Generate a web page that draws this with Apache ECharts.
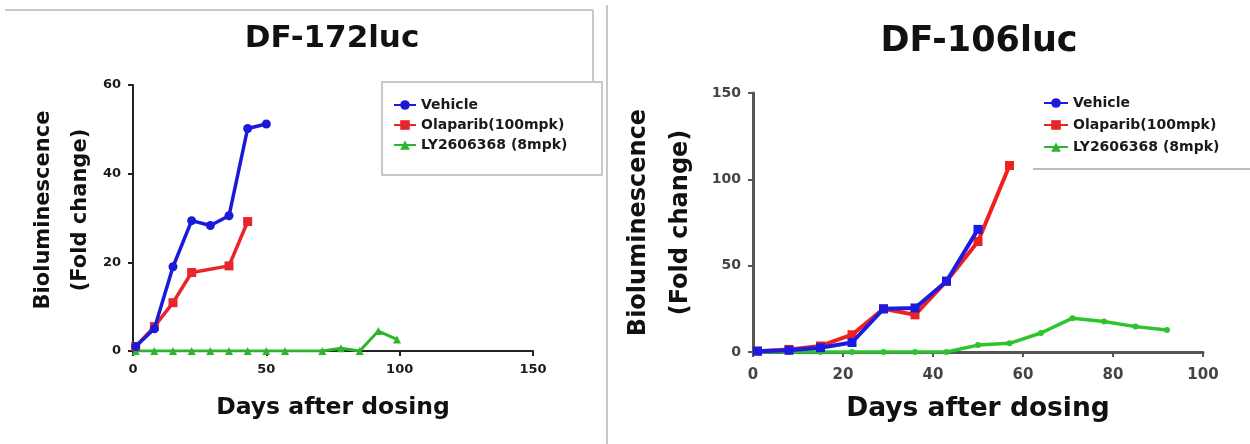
<!DOCTYPE html>
<html>
<head>
<meta charset="utf-8">
<script src="https://cdn.jsdelivr.net/npm/echarts@6/dist/echarts.min.js"></script>
<style>
html,body{margin:0;padding:0;background:#fff;}
#chart{width:1250px;height:444px;}
</style>
</head>
<body>
<div id="chart"></div>
<script>
// ---- Left panel: DF-172luc ----
const leftTitle = 'DF-172luc';
const leftVehicleDays = [1, 8, 15, 22, 29, 36, 43, 50];
const leftVehicleVals = [1, 5, 19, 29.4, 28.3, 30.5, 50.2, 51.2];
const leftOlaDays = [1, 8, 15, 22, 36, 43];
const leftOlaVals = [1, 5.5, 10.9, 17.7, 19.2, 29.2];
const leftLyDays = [1, 8, 15, 22, 29, 36, 43, 50, 57, 71, 78, 85, 92, 99];
const leftLyVals = [0, 0, 0, 0, 0, 0, 0, 0, 0, 0, 0.6, 0, 4.5, 2.6];

// ---- Right panel: DF-106luc ----
const rightTitle = 'DF-106luc';
const rightVehicleDays = [1, 8, 15, 22, 29, 36, 43, 50];
const rightVehicleVals = [0.5, 1, 2.5, 5.5, 25, 25.5, 41, 71];
const rightOlaDays = [1, 8, 15, 22, 29, 36, 43, 50, 57];
const rightOlaVals = [0.5, 1.5, 3.5, 10, 25, 21.5, 41, 64, 108];
const rightLyDays = [1, 8, 15, 22, 29, 36, 43, 50, 57, 64, 71, 78, 85, 92];
const rightLyVals = [0, 0, 0, 0, 0, 0, 0, 4, 5, 11, 19.6, 17.7, 14.7, 12.8];

const seriesNames = ['Vehicle', 'Olaparib(100mpk)', 'LY2606368 (8mpk)'];
const xAxisName = 'Days after dosing';
const yAxisName = 'Bioluminescence\n(Fold change)';

function pairs(xs, ys) { return xs.map((x, i) => [x, ys[i]]); }

const FONT = 'DejaVu Sans';
const chart = echarts.init(document.getElementById('chart'), null, {renderer: 'canvas'});

function mkSeries(name, xi, data, color, symbol, size, width, z) {
  return {
    name: name, type: 'line', xAxisIndex: xi, yAxisIndex: xi, data: data,
    symbol: symbol, symbolSize: size, z: z,
    lineStyle: {color: color, width: width},
    itemStyle: {color: color},
    animation: false
  };
}

const option = {
  backgroundColor: '#fff',
  animation: false,
  title: [
    {text: leftTitle, left: 332, top: 23, textAlign: 'center', padding: 0,
     textStyle: {fontFamily: FONT, fontWeight: 'bold', fontSize: 31, color: '#111'}},
    {text: rightTitle, left: 979, top: 24, textAlign: 'center', padding: 0,
     textStyle: {fontFamily: FONT, fontWeight: 'bold', fontSize: 35, color: '#111'}}
  ],
  legend: [
    {data: seriesNames, orient: 'vertical', left: 393, top: 98, padding: 0,
     itemWidth: 22, itemHeight: 12, itemGap: 6,
     textStyle: {fontFamily: FONT, fontWeight: 'bold', fontSize: 14, color: '#1a1a1a', lineHeight: 14}},
    {data: seriesNames, orient: 'vertical', left: 1043, top: 96, padding: 0,
     itemWidth: 24, itemHeight: 12, itemGap: 8,
     textStyle: {fontFamily: FONT, fontWeight: 'bold', fontSize: 14, color: '#1a1a1a', lineHeight: 14}}
  ],
  grid: [
    {left: 133, right: 717, top: 85, bottom: 93},
    {left: 753, right: 47, top: 93, bottom: 92}
  ],
  xAxis: [
    {type: 'value', gridIndex: 0, min: 0, max: 150, interval: 50,
     name: xAxisName, nameLocation: 'middle', nameGap: 45,
     nameTextStyle: {fontFamily: FONT, fontWeight: 'bold', fontSize: 23.5, color: '#111'},
     axisLine: {lineStyle: {color: '#222', width: 2}},
     axisTick: {show: true, length: 5, lineStyle: {color: '#222', width: 2}},
     axisLabel: {margin: 12, fontFamily: FONT, fontWeight: 'bold', fontSize: 13, color: '#1a1a1a'},
     splitLine: {show: false}},
    {type: 'value', gridIndex: 1, min: 0, max: 100, interval: 20,
     name: xAxisName, nameLocation: 'middle', nameGap: 44,
     nameTextStyle: {fontFamily: FONT, fontWeight: 'bold', fontSize: 26.5, color: '#111'},
     axisLine: {lineStyle: {color: '#555', width: 3}},
     axisTick: {show: true, length: 5, lineStyle: {color: '#555', width: 2}},
     axisLabel: {margin: 16, fontFamily: FONT, fontWeight: 'bold', fontSize: 15, color: '#444'},
     splitLine: {show: false}}
  ],
  yAxis: [
    {type: 'value', gridIndex: 0, min: 0, max: 60, interval: 20,
     name: yAxisName, nameLocation: 'middle', nameGap: 34,
     nameTextStyle: {fontFamily: FONT, fontWeight: 'bold', fontSize: 21, lineHeight: 37, color: '#111',
                     padding: [0, 0, 0, 16]},
     axisLine: {show: true, lineStyle: {color: '#222', width: 2}},
     axisTick: {show: true, length: 5, lineStyle: {color: '#222', width: 2}},
     axisLabel: {margin: 12, fontFamily: FONT, fontWeight: 'bold', fontSize: 13, color: '#1a1a1a'},
     splitLine: {show: false}},
    {type: 'value', gridIndex: 1, min: 0, max: 150, interval: 50,
     name: yAxisName, nameLocation: 'middle', nameGap: 51,
     nameTextStyle: {fontFamily: FONT, fontWeight: 'bold', fontSize: 24, lineHeight: 42, color: '#111'},
     axisLine: {show: true, lineStyle: {color: '#555', width: 3}},
     axisTick: {show: true, length: 5, lineStyle: {color: '#555', width: 2}},
     axisLabel: {margin: 12, fontFamily: FONT, fontWeight: 'bold', fontSize: 14, color: '#444'},
     splitLine: {show: false}}
  ],
  series: [
    mkSeries(seriesNames[2], 0, pairs(leftLyDays, leftLyVals), '#2db52d', 'triangle', 8, 3, 2),
    mkSeries(seriesNames[1], 0, pairs(leftOlaDays, leftOlaVals), '#e8252b', 'rect', 9, 3.5, 3),
    mkSeries(seriesNames[0], 0, pairs(leftVehicleDays, leftVehicleVals), '#1a1adb', 'circle', 9, 3.5, 4),
    mkSeries(seriesNames[2], 1, pairs(rightLyDays, rightLyVals), '#2ec42e', 'circle', 6, 3.5, 2),
    mkSeries(seriesNames[1], 1, pairs(rightOlaDays, rightOlaVals), '#f02020', 'rect', 9, 4, 3),
    mkSeries(seriesNames[0], 1, pairs(rightVehicleDays, rightVehicleVals), '#1c1ce0', 'rect', 9, 4, 4)
  ],
  graphic: [
    {type: 'line', shape: {x1: 5, y1: 10, x2: 593, y2: 10}, style: {stroke: '#c8c8c8', lineWidth: 2}, silent: true},
    {type: 'line', shape: {x1: 593, y1: 10, x2: 593, y2: 82}, style: {stroke: '#c8c8c8', lineWidth: 2}, silent: true},
    {type: 'rect', shape: {x: 382, y: 82, width: 220, height: 93}, style: {stroke: '#c8c8c8', lineWidth: 2, fill: null}, silent: true},
    {type: 'line', shape: {x1: 607, y1: 5, x2: 607, y2: 444}, style: {stroke: '#c8c8c8', lineWidth: 2}, silent: true},
    {type: 'line', shape: {x1: 1033, y1: 169, x2: 1250, y2: 169}, style: {stroke: '#bbbbbb', lineWidth: 2}, silent: true}
  ]
};
chart.setOption(option);
</script>
</body>
</html>
